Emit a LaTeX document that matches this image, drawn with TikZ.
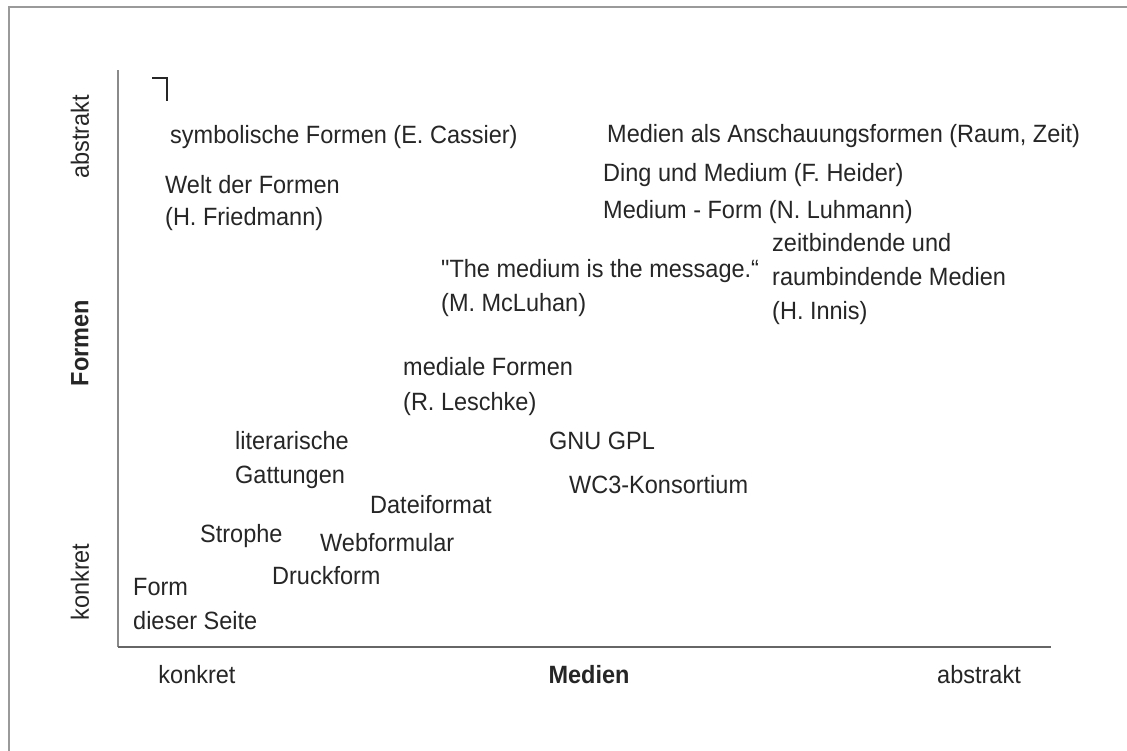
\documentclass[tikz,border=0pt]{standalone}
\usepackage{fontspec}
\setmainfont{Liberation Sans}[FakeStretch=0.94, Ligatures=TeXOff]
\definecolor{txt}{HTML}{262626}
\definecolor{frame}{HTML}{9A9A9A}
\definecolor{axisv}{HTML}{8A8A8A}
\definecolor{axish}{HTML}{666666}
\tikzset{
  lbl/.style={anchor=base west, inner sep=0pt, text=txt, font=\fontsize{25}{30}\selectfont},
  axlbl/.style={anchor=center, inner sep=0pt, text=txt, font=\fontsize{25}{30}\selectfont},
  vlbl/.style={axlbl, rotate=90},
}
\begin{document}
\begin{tikzpicture}[x=1pt,y=-1pt]
\useasboundingbox (0,0) rectangle (1127,750);
\fill[white] (0,0) rectangle (1127,750);
% outer frame (only top and left visible)
\draw[frame, line width=2pt] (9,760) -- (9,7) -- (1140,7);
% axes
\coordinate (o) at (118,647);
\coordinate (ytop) at (118,70);
\coordinate (xend) at (1051,647);
\draw[axisv, line width=2pt] (o) -- (ytop);
\draw[axish, line width=2pt] (o) -- (xend);
% corner mark
\coordinate (c1) at (152,78);
\coordinate (c2) at (167,78);
\coordinate (c3) at (167,101);
\draw[txt, line width=2.5pt] (c1) -- (c2) -- (c3);
% axis labels
\node[vlbl] (yabs) at (80,137) {abstrakt};
\node[vlbl, font=\fontsize{25}{30}\selectfont\bfseries] (yform) at (80,343) {Formen};
\node[vlbl] (ykon) at (80,582) {konkret};
\node[axlbl] (xkon) at (197,675) {konkret};
\node[axlbl, font=\fontsize{25}{30}\selectfont\bfseries] (xmed) at (589,675) {Medien};
\node[axlbl] (xabs) at (979,675) {abstrakt};
% entries
\node[lbl] (cass) at (170,143) {symbolische Formen (E. Cassier)};
\node[lbl] (welt1) at (165,193) {Welt der Formen};
\node[lbl] (welt2) at (165,225) {(H. Friedmann)};
\node[lbl] (anschau) at (607,142) {Medien als Anschauungsformen (Raum, Zeit)};
\node[lbl] (heider) at (603,181) {Ding und Medium (F. Heider)};
\node[lbl] (luhm) at (603,218) {Medium - Form (N. Luhmann)};
\node[lbl] (innis1) at (772,251) {zeitbindende und};
\node[lbl] (innis2) at (772,285) {raumbindende Medien};
\node[lbl] (innis3) at (772,319) {(H. Innis)};
\node[lbl] (mcl1) at (441,277) {"The medium is the message.“};
\node[lbl] (mcl2) at (441,311) {(M. McLuhan)};
\node[lbl] (lesch1) at (403,375) {mediale Formen};
\node[lbl] (lesch2) at (403,410) {(R. Leschke)};
\node[lbl] (gnu) at (549,449) {GNU GPL};
\node[lbl] (wc3) at (569,493) {WC3-Konsortium};
\node[lbl] (lit1) at (235,449) {literarische};
\node[lbl] (lit2) at (235,483) {Gattungen};
\node[lbl] (datei) at (370,513) {Dateiformat};
\node[lbl] (stro) at (200,542) {Strophe};
\node[lbl] (webf) at (320,551) {Webformular};
\node[lbl] (druck) at (272,584) {Druckform};
\node[lbl] (form1) at (133,595) {Form};
\node[lbl] (form2) at (133,629) {dieser Seite};
\end{tikzpicture}
\end{document}
